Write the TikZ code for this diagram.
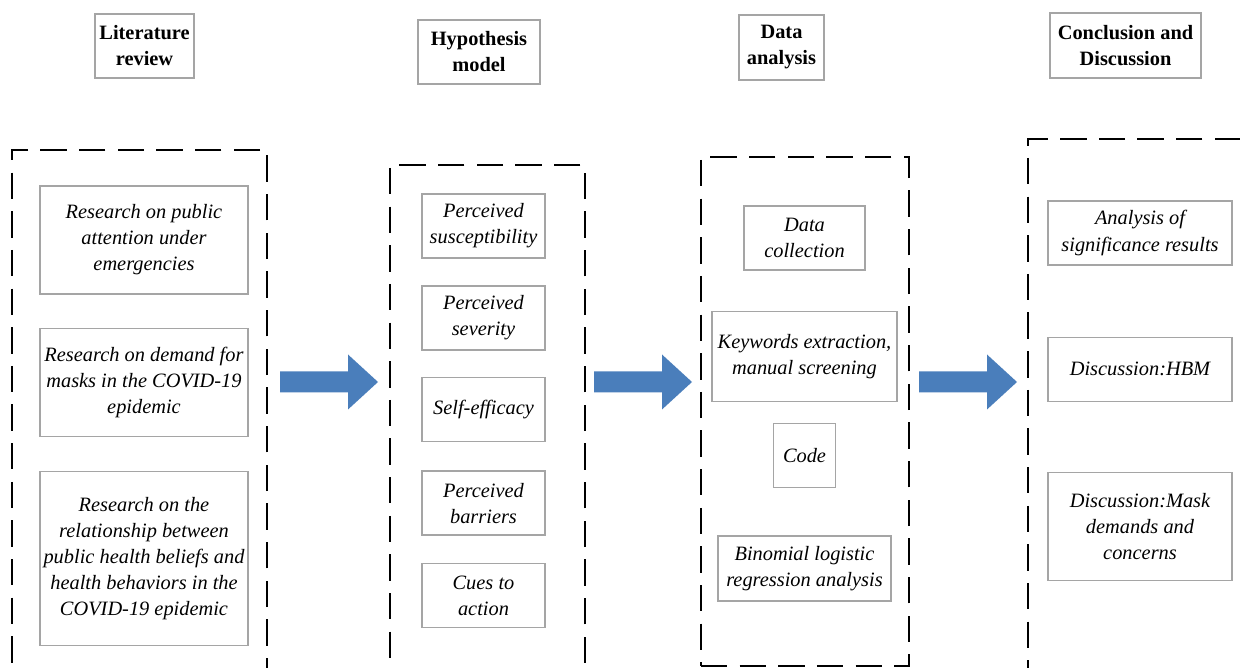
\documentclass[tikz,border=0pt]{standalone}
\usepackage{fontspec}
\setmainfont{Liberation Serif}
\usetikzlibrary{positioning}
\definecolor{flowblue}{RGB}{74,126,187}
\definecolor{boxgray}{RGB}{165,165,165}
\tikzset{
    frame diagram/.style = {x=0.02cm, y=-0.02cm},
    head/.style          = {draw=boxgray, line width=0.8pt, align=center,
                            inner sep=0pt, minimum height=1.28cm,
                            font=\fontsize{11.6}{14.8}\selectfont\bfseries},
    item/.style          = {draw=boxgray, line width=0.8pt, align=center,
                            inner sep=0pt, minimum height=1.28cm,
                            font=\fontsize{11.6}{14.8}\selectfont\itshape},
    group/.style         = {draw, line width=1.1pt, inner sep=0pt,
                            dash pattern=on 15pt off 7pt},
    flow/.style          = {fill=flowblue}
}

\begin{document}
\begin{tikzpicture}[frame diagram]
\useasboundingbox (0,0) rectangle (1240,668);

% Stage headings
\node[head, minimum width=1.98cm] (lith) at (144.5,46) {Literature\\review};
\node[head, minimum width=2.44cm] (hyph) at (479,52) {Hypothesis\\model};
\node[head, minimum width=1.70cm, minimum height=1.30cm] (dath) at (781.5,47.5) {Data\\analysis};
\node[head, minimum width=3.02cm, minimum height=1.30cm] (conh) at (1125.5,45.5) {Conclusion and\\Discussion};

% Dashed stage frames (bottoms run off the page)
\node[group, minimum width=5.10cm, minimum height=11.00cm] (lit) at (139.5,425) {};
\node[group, minimum width=3.90cm, minimum height=10.70cm] (hyp) at (487.5,432.5) {};
\node[group, minimum width=4.16cm, minimum height=10.18cm] (dat) at (805,411.5) {};
\node[group, minimum width=4.64cm, minimum height=11.22cm] (con) at (1144,419.5) {};

% Literature review
\node[item, minimum width=4.16cm, minimum height=2.16cm] (r1) at (144,240)
    {Research on public\\attention under\\emergencies};
\node[item, minimum width=4.16cm, minimum height=2.16cm, below=0.66cm of r1] (r2)
    {Research on demand for\\masks in the COVID-19\\epidemic};
\node[item, minimum width=4.16cm, minimum height=3.48cm, below=0.68cm of r2] (r3)
    {Research on the\\relationship between\\public health beliefs and\\health behaviors in the\\COVID-19 epidemic};

% Hypothesis model
\node[item, minimum width=2.46cm] (h1) at (483.5,226) {Perceived\\susceptibility};
\node[item, minimum width=2.46cm, below=0.53cm of h1] (h2) {Perceived\\severity};
\node[item, minimum width=2.46cm, below=0.53cm of h2] (h3) {Self-efficacy};
\node[item, minimum width=2.46cm, below=0.56cm of h3] (h4) {Perceived\\barriers};
\node[item, minimum width=2.46cm, below=0.54cm of h4] (h5) {Cues to\\action};

% Data analysis
\node[item, minimum width=2.42cm] (d1) at (804.5,238) {Data\\collection};
\node[item, minimum width=3.70cm, minimum height=1.80cm, below=0.80cm of d1] (d2)
    {Keywords extraction,\\manual screening};
\node[item, minimum width=1.24cm, below=0.42cm of d2] (d3) {Code};
\node[item, minimum width=3.46cm, minimum height=1.30cm, below=0.94cm of d3] (d4)
    {Binomial logistic\\regression analysis};

% Conclusion and discussion
\node[item, minimum width=3.68cm] (c1) at (1140,233) {Analysis of\\significance results};
\node[item, minimum width=3.68cm, below=1.42cm of c1] (c2) {Discussion:HBM};
\node[item, minimum width=3.68cm, minimum height=2.16cm, below=1.40cm of c2] (c3)
    {Discussion:Mask\\demands and\\concerns};

% Block arrows between stages
\coordinate (f1) at (329,382);
\coordinate (f2) at (643,382);
\coordinate (f3) at (968,382);
\foreach \f in {f1, f2, f3}
    \fill[flow] (\f) ++(-49,-10.5) -- ++(68,0) -- ++(0,-17) -- ++(30,27.5)
        -- ++(-30,27.5) -- ++(0,-17) -- ++(-68,0) -- cycle;

\end{tikzpicture}
\end{document}
